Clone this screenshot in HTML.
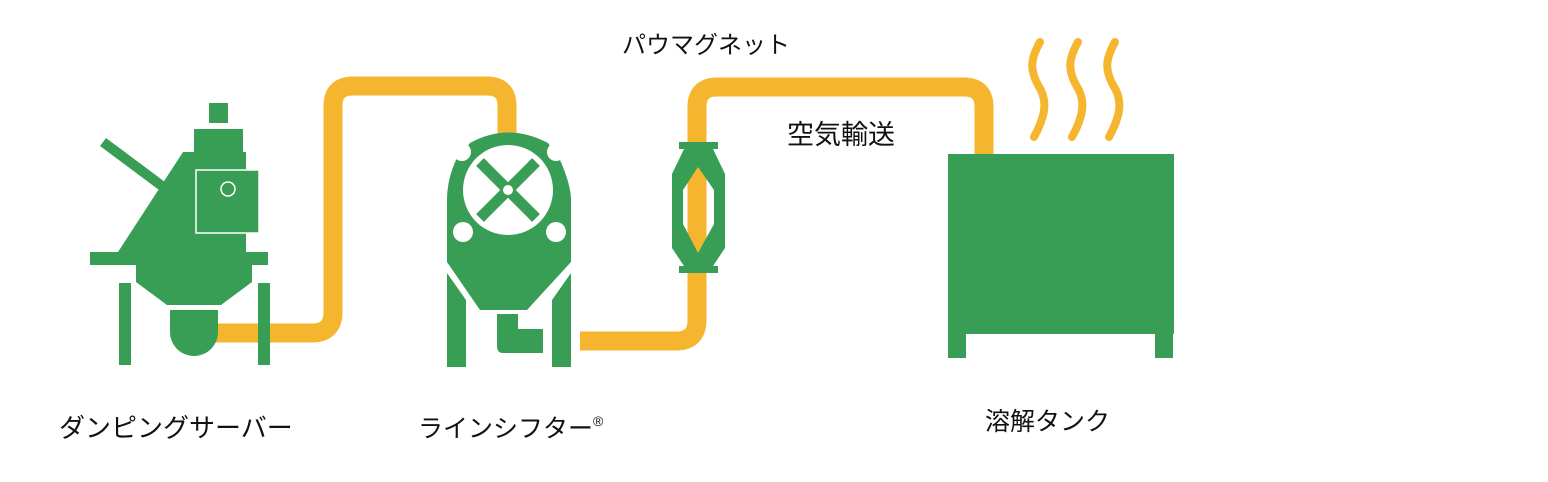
<!DOCTYPE html>
<html><head><meta charset="utf-8"><style>
html,body{margin:0;padding:0;background:#fff;}
svg{display:block;}
text{font-family:"Liberation Sans","Noto Sans CJK JP",sans-serif;fill:#111;}
</style></head><body>
<svg width="1548" height="482" viewBox="0 0 1548 482" xmlns="http://www.w3.org/2000/svg">
<g fill="none" stroke="#f6b52e" stroke-width="19">
<path d="M212 333 H312 Q333 333 333 312 V106 Q333 86 353 86 H487 Q507 86 507 106 V135"/>
<path d="M580 341 H676 Q697 341 697 320 V107 Q697 87 717 87 H964 Q984 87 984 107 V160"/>
</g>
<g fill="none" stroke="#f6b52e" stroke-width="8" stroke-linecap="round">
<path d="M1040 42 C1030 60,1030 70,1038 85 C1048 100,1046 115,1034 137"/>
<path d="M1078 42 C1068 60,1068 70,1076 85 C1086 100,1084 115,1072 137"/>
<path d="M1115 42 C1105 60,1105 70,1113 85 C1123 100,1121 115,1109 137"/>
</g>
<g fill="#389d55">
<rect x="209" y="103" width="19" height="20"/>
<rect x="194" y="129" width="49" height="23"/>
<line x1="103" y1="142" x2="162" y2="186" stroke="#389d55" stroke-width="10"/>
<polygon points="183,152 246,152 246,252 268,252 268,265 252,265 252,282 221,305 167,305 136,282 136,265 90,265 90,252 118,252"/>
<rect x="196" y="170" width="63" height="63" stroke="#fff" stroke-width="1.5"/>
<circle cx="228" cy="189" r="7" fill="none" stroke="#fff" stroke-width="1.5"/>
<path d="M170 310 H218 V332 A24 24 0 0 1 170 332 Z"/>
<rect x="119" y="283" width="12" height="82"/>
<rect x="258" y="283" width="12" height="82"/>
<path d="M470 143 Q508 122 548 143 L560 160 Q571 185 571 200 V262 L527 310 H480 L447 262 V200 Q447 180 456 160 Z"/>
<circle cx="508" cy="190" r="45" fill="#fff"/>
<g stroke="#389d55" stroke-width="11"><line x1="480" y1="162" x2="536" y2="218"/><line x1="536" y1="162" x2="480" y2="218"/></g>
<circle cx="508" cy="190" r="5" fill="#fff"/>
<circle cx="462" cy="152" r="9" fill="#fff"/>
<circle cx="556" cy="152" r="9" fill="#fff"/>
<circle cx="463" cy="232" r="10" fill="#fff"/>
<circle cx="556" cy="232" r="10" fill="#fff"/>
<polygon points="447,273 466,300 466,367 447,367"/>
<polygon points="571,273 552,300 552,367 571,367"/>
<path d="M497 314 H518 V329 H543 V353 H503 Q497 353 497 346 Z"/>
<rect x="679" y="142" width="39" height="7"/>
<rect x="679" y="266" width="39" height="7"/>
<path fill-rule="evenodd" d="M684 149 H713 L725 174 V248 L713 266 H684 L672 248 V174 Z M698 167 L683 190 V224 L698 253 L714 224 V190 Z"/>
<rect x="948" y="154" width="226" height="180"/>
<rect x="948" y="330" width="18" height="28"/>
<rect x="1155" y="330" width="18" height="28"/>
</g>
<text x="622" y="53" font-size="24">パウマグネット</text>
<text x="787" y="144" font-size="27">空気輸送</text>
<text x="59" y="437" font-size="26">ダンピングサーバー</text>
<text x="418" y="437" font-size="25">ラインシフター<tspan font-size="14" dy="-11">®</tspan></text>
<text x="985" y="430" font-size="25">溶解タンク</text>
</svg>
</body></html>
